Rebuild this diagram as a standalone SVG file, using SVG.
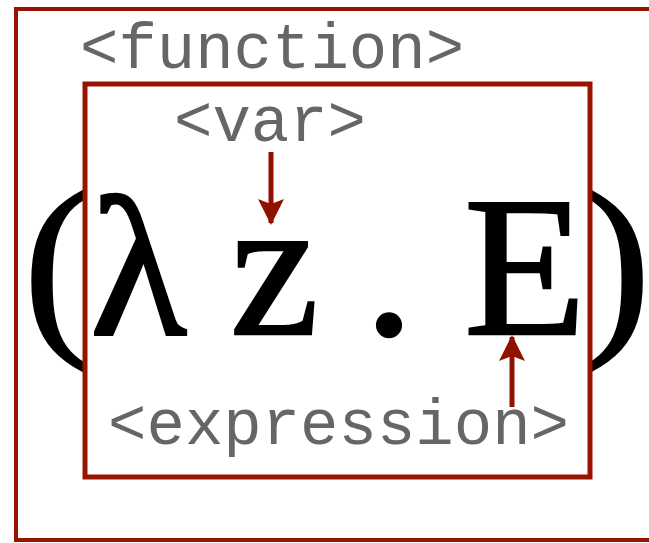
<svg xmlns="http://www.w3.org/2000/svg" width="649" height="543" viewBox="0 0 649 543">
<defs>
<style>
.box{fill:none;stroke:#991400}
.lbl{font-family:"Courier New","Nimbus Mono PS","FreeMono","Liberation Mono",monospace;font-size:64px;fill:#666666;text-anchor:middle}
.big{font-family:"Liberation Serif","Times New Roman",serif;font-size:200px;fill:#000000;stroke:#000000;stroke-width:2.5;text-anchor:middle}
.conn{stroke:#8f1100;stroke-width:5;fill:none}
</style>
<marker id="ah" viewBox="0 0 26 26" refX="24" refY="13" markerWidth="26" markerHeight="26" markerUnits="userSpaceOnUse" orient="auto">
<path d="M0,0 L26,13 L0,26 L5,13 Z" fill="#8f1100"/>
</marker>
</defs>
<g id="function">
<rect class="box" x="16" y="9" width="700" height="531" stroke-width="4"/>
<text class="lbl" x="272" y="68">&lt;function&gt;</text>
</g>
<g id="paren-open"><text class="big" x="57" y="329">(</text></g>
<g id="paren-close"><text class="big" x="617" y="329">)</text></g>
<g id="abstraction">
<rect class="box" x="85" y="84" width="505" height="393" stroke-width="5"/>
</g>
<g id="lambda"><text class="big" x="138.5" y="334">λ</text></g>
<g id="var">
<text class="lbl" x="270" y="141">&lt;var&gt;</text>
<text class="big" x="274.5" y="334">z</text>
</g>
<g id="dot"><text class="big" x="389" y="334">.</text></g>
<g id="expression">
<text class="big" x="525" y="334">E</text>
<text class="lbl" x="338.5" y="444">&lt;expression&gt;</text>
</g>
<g id="connectors">
<line class="conn" x1="271" y1="152" x2="271" y2="223" marker-end="url(#ah)"/>
<line class="conn" x1="512" y1="407" x2="512" y2="337" marker-end="url(#ah)"/>
</g>
</svg>
